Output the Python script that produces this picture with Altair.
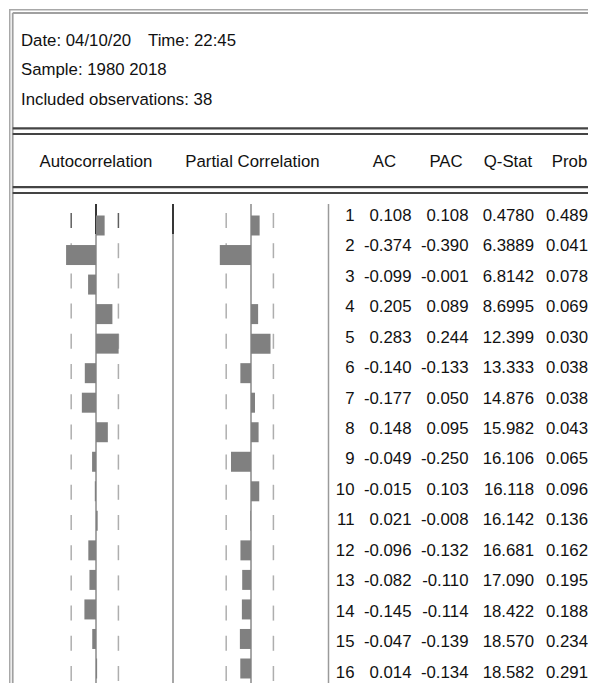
import altair as alt
import pandas as pd

# ---- data ----
lags = list(range(1, 17))
ac = [0.108, -0.374, -0.099, 0.205, 0.283, -0.140, -0.177, 0.148,
      -0.049, -0.015, 0.021, -0.096, -0.082, -0.145, -0.047, 0.014]
pac = [0.108, -0.390, -0.001, 0.089, 0.244, -0.133, 0.050, 0.095,
       -0.250, 0.103, -0.008, -0.132, -0.110, -0.114, -0.139, -0.134]
qstat = [0.4780, 6.3889, 6.8142, 8.6995, 12.399, 13.333, 14.876, 15.982,
         16.106, 16.118, 16.142, 16.681, 17.090, 18.422, 18.570, 18.582]
prob = [0.489, 0.041, 0.078, 0.069, 0.030, 0.038, 0.038, 0.043,
        0.065, 0.096, 0.136, 0.162, 0.195, 0.188, 0.234, 0.291]
bounds = [-0.31, 0.28]

header_lines = ["Date: 04/10/20", "Time: 22:45", "Sample: 1980 2018",
                "Included observations: 38"]
col_headers = ["Autocorrelation", "Partial Correlation", "AC", "PAC", "Q-Stat", "Prob"]

df = pd.DataFrame({
    "lag": lags, "ac": ac, "pac": pac,
    "lag_s": [str(v) for v in lags],
    "ac_s": [f"{v:.3f}" for v in ac],
    "pac_s": [f"{v:.3f}" for v in pac],
    "q_s": [f"{v:.4f}" if v < 10 else f"{v:.3f}" for v in qstat],
    "p_s": [f"{v:.3f}" for v in prob],
})
df_b = pd.DataFrame([{"lag": l, "b": b} for l in lags for b in bounds])
df_zero = pd.DataFrame({"z": [0]})
dummy = pd.DataFrame({"a": [0]})

FONT = "Liberation Sans, Arial, sans-serif"
FS = 16.8
TXT = "#111111"
W, H = 580, 675

ac_x = alt.Scale(domain=[-1, 1], range=[7, 167], nice=False, zero=False)
pac_x = alt.Scale(domain=[-1, 1], range=[162, 322], nice=False, zero=False)
bar_y = alt.Scale(domain=[1, 16], range=[211.5, 664.5], nice=False, zero=False)
txt_y = alt.Scale(domain=[1, 16], range=[212, 668.5], nice=False, zero=False)

layers = []


def hline(y, x1, x2, color, w):
    return alt.Chart(dummy).mark_rule(color=color, strokeWidth=w).encode(
        x=alt.value(x1), x2=alt.value(x2), y=alt.value(y))


def vline(x, y1, y2, color, w):
    return alt.Chart(dummy).mark_rule(color=color, strokeWidth=w).encode(
        x=alt.value(x), y=alt.value(y1), y2=alt.value(y2))


def label(text, x, y, align):
    return alt.Chart(dummy).mark_text(
        text=text, align=align, baseline="alphabetic", font=FONT,
        fontSize=FS, color=TXT).encode(x=alt.value(x), y=alt.value(y))


# outer double frame
layers += [
    hline(0.75, 0, W, "#a8a8a8", 1.5),
    hline(4, 3.7, W, "#a0a0a0", 1.8),
    vline(0.75, 0, H, "#a8a8a8", 1.5),
    vline(3.7, 4, H, "#a0a0a0", 1.8),
]
# header separators
layers += [
    hline(119.3, 3.7, W, "#444444", 2.2),
    hline(125, 3.7, W, "#444444", 2.2),
    hline(178.2, 3.7, W, "#444444", 2.2),
    hline(184, 3.7, W, "#444444", 2.2),
]
# body dividers
layers += [
    vline(164, 195, H, "#8a8a8a", 1.5),
    vline(164, 195, 225, "#111111", 1.5),
    vline(319.5, 195, H, "#9a9a9a", 1.5),
]

# header text
layers += [
    label(header_lines[0], 12, 37, "left"),
    label(header_lines[1], 139, 37, "left"),
    label(header_lines[2], 12, 66.3, "left"),
    label(header_lines[3], 12, 96.3, "left"),
]
hdr_x = [87, 243.5, 375.5, 437, 499, 560.5]
for t, x in zip(col_headers, hdr_x):
    layers.append(label(t, x, 158, "center"))

# zero lines of the two correlation panels
layers.append(alt.Chart(df_zero).mark_rule(color="#8a8a8a", strokeWidth=1.5).encode(
    x=alt.X("z:Q", scale=ac_x, axis=None), y=alt.value(195), y2=alt.value(H)))
layers.append(alt.Chart(df_zero).mark_rule(color="#111111", strokeWidth=1.5).encode(
    x=alt.X("z:Q", scale=ac_x, axis=None), y=alt.value(195), y2=alt.value(225)))
layers.append(alt.Chart(df_zero).mark_rule(color="#8a8a8a", strokeWidth=1.5).encode(
    x=alt.X("z:Q", scale=pac_x, axis=None), y=alt.value(195), y2=alt.value(H)))

# dashed confidence bounds
layers.append(alt.Chart(df_b).mark_tick(orient="vertical", size=15, thickness=1.5).encode(
    x=alt.X("b:Q", scale=ac_x, axis=None),
    y=alt.Y("lag:Q", scale=bar_y, axis=None),
    color=alt.condition("datum.lag == 1", alt.value("#1a1a1a"), alt.value("#8c8c8c"))))
layers.append(alt.Chart(df_b).mark_tick(orient="vertical", size=15, thickness=1.5,
                                        color="#8c8c8c").encode(
    x=alt.X("b:Q", scale=pac_x, axis=None),
    y=alt.Y("lag:Q", scale=bar_y, axis=None)))

# bars
layers.append(alt.Chart(df).mark_bar(orient="horizontal", size=20, color="#808080").encode(
    x=alt.X("ac:Q", scale=ac_x, axis=None, stack=None),
    y=alt.Y("lag:Q", scale=bar_y, axis=None)))
layers.append(alt.Chart(df).mark_bar(orient="horizontal", size=20, color="#808080").encode(
    x=alt.X("pac:Q", scale=pac_x, axis=None, stack=None),
    y=alt.Y("lag:Q", scale=bar_y, axis=None)))

# number columns
for field, x in [("lag_s", 345.5), ("ac_s", 402.5), ("pac_s", 459.5),
                 ("q_s", 525), ("p_s", 579)]:
    layers.append(alt.Chart(df).mark_text(
        align="right", baseline="alphabetic", font=FONT, fontSize=FS, color=TXT).encode(
        x=alt.value(x),
        y=alt.Y("lag:Q", scale=txt_y, axis=None),
        text=f"{field}:N"))

chart = alt.layer(*layers).properties(
    width=W, height=H,
    autosize=alt.AutoSizeParams(type="fit", contains="padding"),
    padding=0,
).resolve_scale(x="independent", y="independent").configure_view(strokeWidth=0)

chart.save("out.html", embed_options={"renderer": "svg", "actions": False})
